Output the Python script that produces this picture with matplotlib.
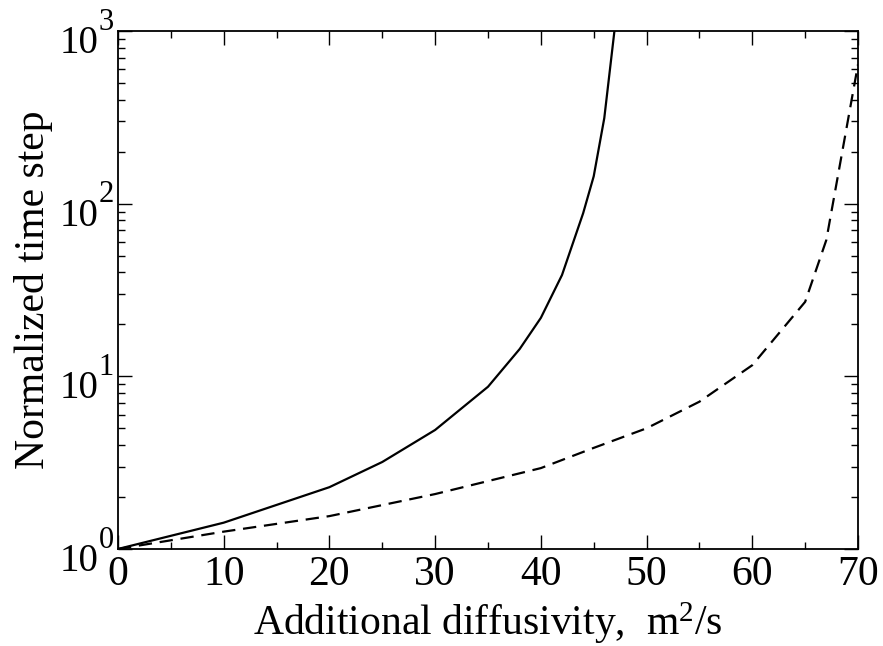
import matplotlib
matplotlib.use("Agg")
import matplotlib.pyplot as plt
from matplotlib.ticker import LogLocator, MultipleLocator, NullFormatter

# solid curve
x_solid = [0, 10, 20, 25, 30, 35, 38, 40, 42, 44, 45, 46, 47]
y_solid = [1.0, 1.42, 2.28, 3.19, 4.89, 8.7, 14.4, 21.8, 38.6, 88, 144, 313, 1050]

# dashed curve
x_dash = [0, 10, 20, 30, 40, 45, 50, 55, 60, 65, 67, 70]
y_dash = [1.0, 1.26, 1.55, 2.08, 2.94, 3.85, 5.0, 7.13, 11.6, 27, 61.5, 640]

x_ticks = [0, 10, 20, 30, 40, 50, 60, 70]
y_ticks = [1, 10, 100, 1000]
y_exponents = ["0", "1", "2", "3"]

plt.rcParams["font.family"] = "Liberation Serif"
plt.rcParams["mathtext.fontset"] = "custom"
plt.rcParams["mathtext.rm"] = "Liberation Serif"
plt.rcParams["mathtext.it"] = "Liberation Serif"

fig = plt.figure(figsize=(8.83, 6.46), dpi=100)
ax = fig.add_axes([0.1336, 0.1502, 0.8381, 0.8018])

ax.plot(x_solid, y_solid, color="black", lw=1.6)
ax.plot(x_dash, y_dash, color="black", lw=1.6, dashes=(6, 3.5))

ax.set_yscale("log")
ax.set_xlim(0, 70)
ax.set_ylim(1, 1000)

ax.set_xticks(x_ticks)
ax.xaxis.set_minor_locator(MultipleLocator(5))
ax.set_yticks(y_ticks)
ax.yaxis.set_minor_locator(LogLocator(base=10, subs=range(2, 10)))
ax.yaxis.set_minor_formatter(NullFormatter())

ax.tick_params(which="both", direction="in", top=True, right=True, labelsize=30, width=1)
ax.tick_params(axis="y", labelleft=False)
ax.tick_params(which="major", length=10, pad=5)
ax.tick_params(which="minor", length=5)
for s in ax.spines.values():
    s.set_linewidth(1.3)

# y tick labels drawn as "10" plus a raised exponent, like the original
ytr = ax.get_yaxis_transform()
for yv, ex in zip(y_ticks, y_exponents):
    ax.annotate("10", xy=(0, yv), xycoords=ytr, xytext=(-14.2, -15.8),
                textcoords="offset points", ha="right", va="baseline", fontsize=28)
    ax.annotate(ex, xy=(0, yv), xycoords=ytr, xytext=(-13.8, 1.0),
                textcoords="offset points", ha="left", va="baseline", fontsize=22)

ax.set_xlabel(r"Additional diffusivity,  m$^{2}$/s", fontsize=30)
ax.xaxis.set_label_coords(0.5, -0.099)
ax.set_ylabel("Normalized time step", fontsize=30)
ax.yaxis.set_label_coords(-0.088, 0.5)

fig.savefig("out.png", dpi=100)
